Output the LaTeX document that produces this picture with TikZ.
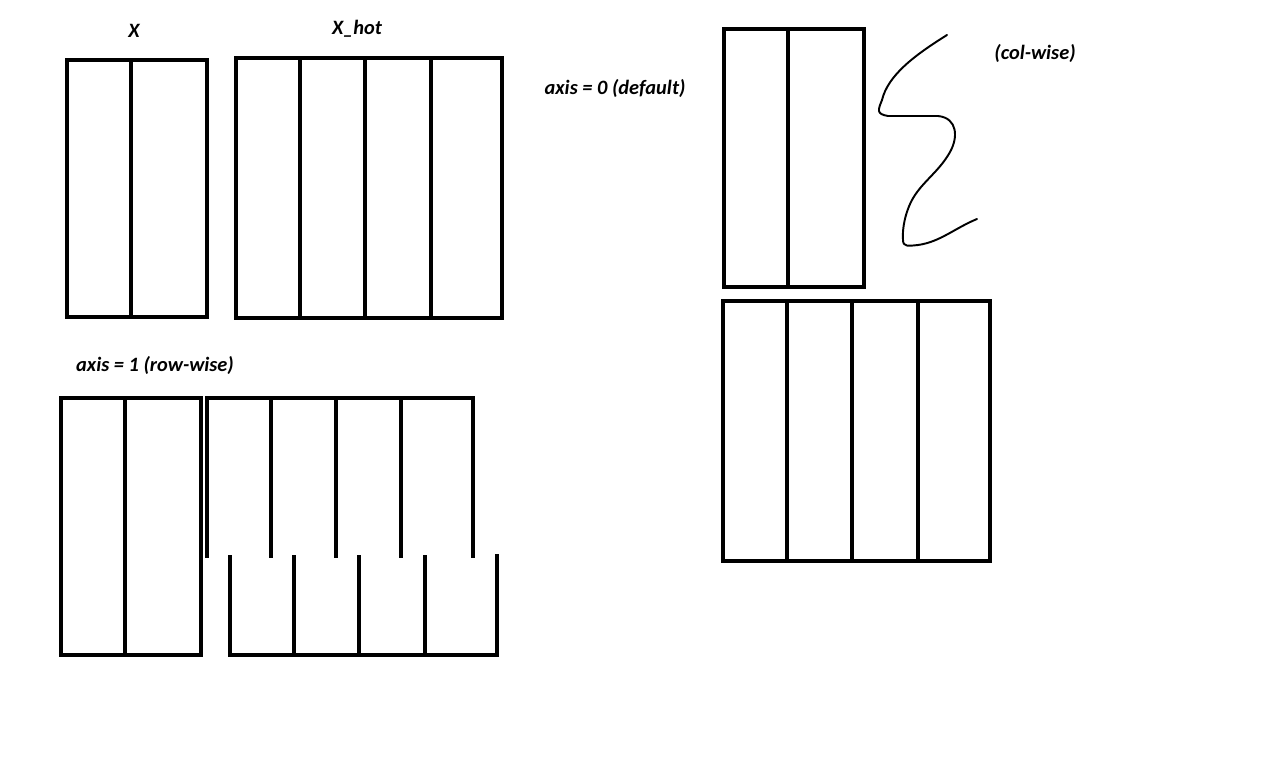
\documentclass[tikz,border=0pt]{standalone}
\usepackage{fontspec}
\setmainfont{Carlito}
\begin{document}
\begin{tikzpicture}[x=0.02cm,y=-0.02cm,
  ln/.style={line width=1.9pt,line cap=rect},
  lbl/.style={font=\fontsize{11.6pt}{13pt}\selectfont\bfseries\itshape,inner sep=0pt}]
\useasboundingbox[fill=white] (0,0) rectangle (1280,771);
% X
\draw[ln] (67,60) rectangle (207,317);
\draw[ln] (131,60) -- (131,317);
% X_hot
\draw[ln] (236,58) rectangle (502,318);
\foreach \x in {300,365,431} \draw[ln] (\x,58) -- (\x,318);
% labels
\node[lbl] (lx) at (134,31) {X};
\node[lbl] (lxh) at (357,29) {X\_hot};
\node[lbl] (ax0) at (615,88) {axis = 0 (default)};
\node[lbl] (cw) at (1035,53) {(col-wise)};
\node[lbl] (ax1) at (155,365) {axis = 1 (row-wise)};
% top right
\draw[ln] (724,29) rectangle (864,287);
\draw[ln] (788,29) -- (788,287);
% bottom right
\draw[ln] (723,301) rectangle (990,561);
\foreach \x in {787,852,918} \draw[ln] (\x,301) -- (\x,561);
% squiggle
\draw[line width=1.1pt,line join=round,line cap=round]
  (947,35) .. controls (915,55) and (888,75) .. (882,100)
  .. controls (878,110) and (876,114) .. (888,116)
  -- (938,116)
  .. controls (958,118) and (958,138) .. (950,152)
  .. controls (940,170) and (925,180) .. (915,195)
  .. controls (905,210) and (902,230) .. (903,240)
  .. controls (903,247) and (908,246) .. (918,245)
  .. controls (940,242) and (955,228) .. (977,219);
% bottom left
\draw[ln] (61,398) rectangle (201,655);
\draw[ln] (125,398) -- (125,655);
% upper broken
\draw[ln] (207,556) -- (207,398) -- (473,398) -- (473,556);
\foreach \x in {271,336,401} \draw[ln] (\x,398) -- (\x,556);
% lower broken
\draw[ln] (230,557) -- (230,655) -- (497,655) -- (497,556);
\foreach \x in {294,359,425} \draw[ln] (\x,557) -- (\x,655);
\end{tikzpicture}
\end{document}
